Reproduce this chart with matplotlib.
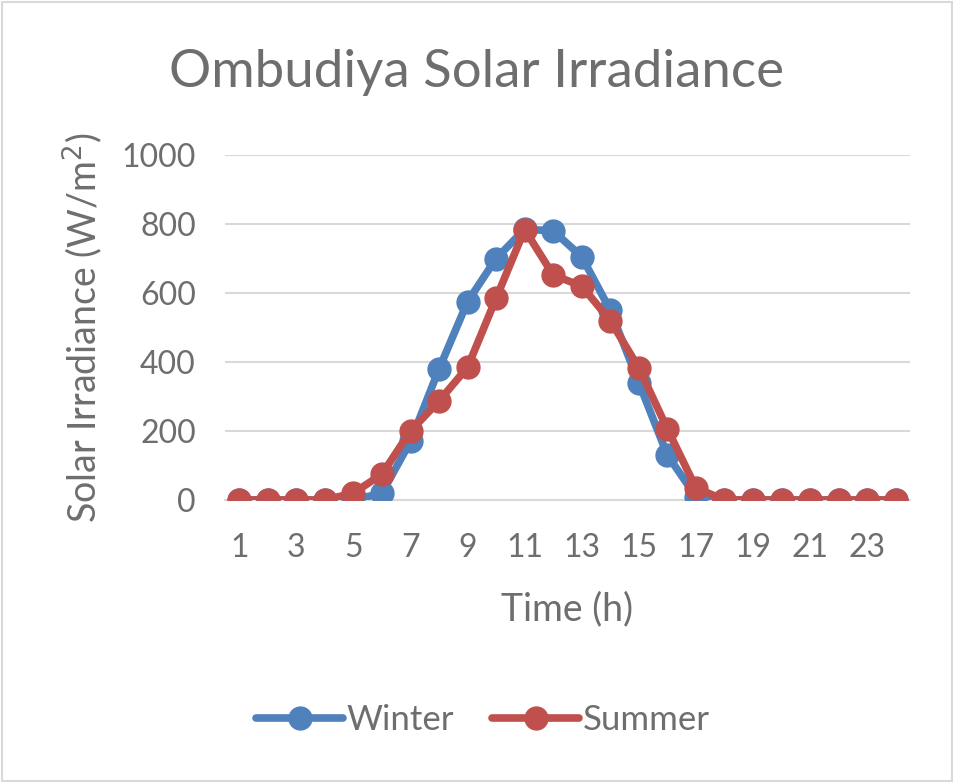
import matplotlib
matplotlib.use("Agg")
import matplotlib.pyplot as plt

hours = list(range(1, 25))
winter = [0, 0, 0, 0, 0, 20, 170, 380, 575, 700, 785, 780, 705, 550, 340, 130, 10, 0, 0, 0, 0, 0, 0, 0]
summer = [0, 0, 0, 0, 20, 75, 200, 287, 385, 585, 784, 652, 620, 520, 383, 206, 35, 0, 0, 0, 0, 0, 0, 0]
yticks = [0, 200, 400, 600, 800, 1000]
xticks = list(range(1, 24, 2))

plt.rcParams['font.family'] = ['Lato', 'DejaVu Sans']
gray = '#6e6e6e'

fig = plt.figure(figsize=(9.54, 7.83), dpi=100)
fig.patch.set_facecolor('white')
fig.patches.append(plt.Rectangle((0.002, 0.002), 0.996, 0.996, transform=fig.transFigure,
                                 fill=False, edgecolor='#d9d9d9', linewidth=1.5))
ax = fig.add_axes([225/954, 1-500/783, (910-225)/954, (500-155)/783])

ax.plot(hours, winter, color='#4F81BD', lw=5.5, marker='o', ms=16.5, label='Winter', zorder=3,
        solid_joinstyle='round', solid_capstyle='round')
ax.plot(hours, summer, color='#C0504D', lw=5.5, marker='o', ms=16.5, label='Summer', zorder=4,
        solid_joinstyle='round', solid_capstyle='round')

ax.set_xlim(0.5, 24.5)
ax.set_ylim(0, 1000)
ax.set_yticks(yticks)
ax.set_xticks(xticks)
ax.grid(axis='y', color='#d9d9d9', lw=1.5)
ax.set_axisbelow(True)
for s in ['top', 'right', 'left']:
    ax.spines[s].set_visible(False)
ax.spines['bottom'].set_color('#d9d9d9')
ax.spines['bottom'].set_linewidth(1.5)
ax.tick_params(axis='both', length=0, labelsize=23, labelcolor=gray)
ax.tick_params(axis='y', pad=21)
ax.tick_params(axis='x', pad=24)

ax.set_xlabel('Time (h)', fontsize=27, color=gray, labelpad=20)
ax.set_ylabel('Solar Irradiance (W/m$^2$)', fontsize=27, color=gray, labelpad=12)
fig.text(477/954, 1 - 72/783, 'Ombudiya Solar Irradiance', ha='center', va='center',
         fontsize=38, color=gray)

leg = fig.legend(loc='center', bbox_to_anchor=(483/954, 1-720/783), ncol=2, frameon=False,
                 fontsize=25, handlelength=2.5, columnspacing=1.1, handletextpad=0.1,
                 labelcolor=gray)

fig.savefig('out.png', dpi=100, facecolor='white')
